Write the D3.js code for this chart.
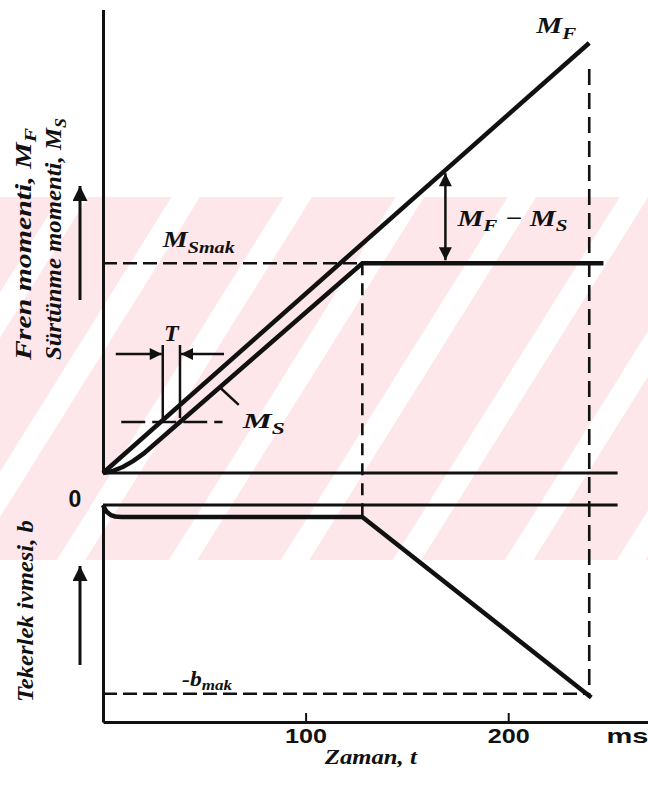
<!DOCTYPE html>
<html>
<head>
<meta charset="utf-8">
<script src="https://cdn.jsdelivr.net/npm/d3@7"></script>
<style>
  html, body { margin: 0; padding: 0; background: #fff; }
  svg { display: block; }
  .lab { font-family: "Liberation Serif", "DejaVu Serif", serif; font-weight: bold; font-style: italic; fill: #111; }
  .num { font-family: "Liberation Sans", Arial, sans-serif; font-weight: bold; fill: #111; }
</style>
</head>
<body>
<svg id="chart" width="648" height="796"></svg>
<script>
// ---- data -------------------------------------------------------------
// time axis, ms
const timeTicks = [100, 200];
const tickLabels = ["100", "200"];
// brake torque M_F: rises linearly until the wheel locks
const brakeTorque = [[0, 0], [240, 205]];
// friction torque M_S: follows M_F with a lag T, then saturates at M_Smak
const frictionTorque = [[0, 0], [5, 1], [10, 3], [15, 5.8], [20, 9.2], [38, 24.3], [128, 100], [247, 100]];
const frictionMax = 100;
// wheel deceleration b
const wheelDecel = [[0, 0], [1, -2.2], [2, -3.8], [4, -5.4], [6, -6.1], [9, -6.4], [128, -6.4], [241, -102]];
const decelMax = -100;
// characteristic instants, ms
const tSat = 128;     // M_S reaches M_Smak
const tLock = 240;    // wheel locks, b reaches -b_mak
const tEnd = 254;     // right end of the reference lines
// lag T drawn at this torque level between these two instants
const lagLevel = 24.3;
const lagTimes = [29.5, 38];
// where the M_F - M_S difference is marked
const diffTime = 169;

// ---- scales -----------------------------------------------------------
const svg = d3.select("#chart");
const x = d3.scaleLinear().domain([0, 269]).range([103, 648]);
const yM = d3.scaleLinear().domain([0, 221]).range([473, 9.4]);
const yB = d3.scaleLinear().domain([0, -115]).range([505, 722]);
const ink = "#111";

// stretch a text element along its run so that it spans `len` pixels
function fit(sel, len) {
  const w = sel.node().getComputedTextLength();
  const base = sel.attr("transform") || "";
  sel.attr("transform", base + ` scale(${len / w},1)`);
  return sel;
}

// ---- background band --------------------------------------------------
const defs = svg.append("defs");
const pat = defs.append("pattern")
  .attr("id", "band").attr("patternUnits", "userSpaceOnUse")
  .attr("width", 95).attr("height", 20)
  .attr("patternTransform", "rotate(32)");
pat.append("rect").attr("width", 95).attr("height", 20).attr("fill", "#fde7eb");
pat.append("rect").attr("x", 60).attr("width", 24).attr("height", 20).attr("fill", "#fff");
svg.append("rect").attr("x", 0).attr("y", 197).attr("width", 648).attr("height", 363)
  .attr("fill", "url(#band)");

// arrowhead marker
function marker(id, len, wid) {
  defs.append("marker")
    .attr("id", id).attr("viewBox", "0 0 10 10")
    .attr("refX", 10).attr("refY", 5)
    .attr("markerUnits", "userSpaceOnUse")
    .attr("markerWidth", len).attr("markerHeight", wid)
    .attr("orient", "auto-start-reverse")
    .append("path").attr("d", "M0,0 L10,5 L0,10 Z").attr("fill", ink);
}
marker("headBig", 20, 15);
marker("headMid", 20, 13);
marker("headT", 20, 12);

// ---- axes -------------------------------------------------------------
function styleAxis(g, w) {
  g.select(".domain").attr("stroke", ink).attr("stroke-width", w);
  g.selectAll(".tick line").attr("stroke", ink).attr("stroke-width", 2);
}
svg.append("g").attr("transform", `translate(${x(0)},0)`)
  .call(d3.axisLeft(yM).tickValues([]).tickSizeOuter(0))
  .call(g => styleAxis(g, 3));
svg.append("g").attr("transform", `translate(${x(0)},0)`)
  .call(d3.axisLeft(yB).tickValues([]).tickSizeOuter(0))
  .call(g => styleAxis(g, 3));
const xAxis = svg.append("g").attr("transform", `translate(0,${yB(-115)})`)
  .call(d3.axisBottom(x).tickValues(timeTicks).tickFormat((d, i) => tickLabels[i])
    .tickSizeInner(-9).tickSizeOuter(0).tickPadding(7))
  .call(g => styleAxis(g, 3));
xAxis.attr("font-family", null);
xAxis.selectAll(".tick text").attr("class", "num").attr("font-size", 20).attr("fill", ink)
  .each(function () { fit(d3.select(this), 42); });

fit(svg.append("text").attr("class", "num").attr("font-size", 20)
  .attr("transform", `translate(${x(248.5)},${yB(-115) + 21})`).text("ms"), 42);
fit(svg.append("text").attr("class", "lab").attr("font-size", 21)
  .attr("transform", `translate(${x(109.5)},${yB(-115) + 42})`).text("Zaman, t"), 92);

// zero reference lines of both panels
svg.append("line").attr("x1", x(0)).attr("x2", x(tEnd)).attr("y1", yM(0)).attr("y2", yM(0))
  .attr("stroke", ink).attr("stroke-width", 3);
svg.append("line").attr("x1", x(0)).attr("x2", x(tEnd)).attr("y1", yB(0)).attr("y2", yB(0))
  .attr("stroke", ink).attr("stroke-width", 3);
svg.append("text").attr("class", "num").attr("font-size", 23)
  .attr("x", x(0) - 28).attr("y", 507).attr("text-anchor", "middle").text("0");

// ---- dashed guides ----------------------------------------------------
function dashed(x1, y1, x2, y2, dash) {
  svg.append("line").attr("x1", x1).attr("y1", y1).attr("x2", x2).attr("y2", y2)
    .attr("stroke", ink).attr("stroke-width", 2.6).attr("stroke-dasharray", dash);
}
dashed(x(0), yM(frictionMax), x(tSat), yM(frictionMax), "14,6");
dashed(x(0), yB(decelMax), x(tLock), yB(decelMax), "14,6");
dashed(x(tSat), yM(frictionMax), x(tSat), yB(wheelDecel[6][1]), "12,8");
dashed(x(tLock), yM(brakeTorque[1][1]) + 26, x(tLock), yB(wheelDecel[7][1]), "16,8");
dashed(x(9), yM(lagLevel), x(59), yM(lagLevel), "24,7");

// ---- curves -----------------------------------------------------------
const lineM = d3.line().x(d => x(d[0])).y(d => yM(d[1]));
const lineB = d3.line().x(d => x(d[0])).y(d => yB(d[1]));
svg.append("path").attr("d", lineM(brakeTorque)).attr("fill", "none")
  .attr("stroke", ink).attr("stroke-width", 4.5);
svg.append("path").attr("d", lineM(frictionTorque)).attr("fill", "none")
  .attr("stroke", ink).attr("stroke-width", 4.5);
svg.append("path").attr("d", lineB(wheelDecel)).attr("fill", "none")
  .attr("stroke", ink).attr("stroke-width", 4.5);

// ---- lag T marker -----------------------------------------------------
const lagTop = yM(lagLevel) - 77;
lagTimes.forEach(t => {
  svg.append("line").attr("x1", x(t)).attr("x2", x(t)).attr("y1", lagTop).attr("y2", yM(lagLevel) - 4)
    .attr("stroke", ink).attr("stroke-width", 2.5);
});
const lagArrowY = lagTop + 9;
svg.append("line").attr("x1", x(lagTimes[0]) - 47).attr("x2", x(lagTimes[0]) - 1)
  .attr("y1", lagArrowY).attr("y2", lagArrowY)
  .attr("stroke", ink).attr("stroke-width", 2.5).attr("marker-end", "url(#headT)");
svg.append("line").attr("x1", x(lagTimes[1]) + 44).attr("x2", x(lagTimes[1]) + 1)
  .attr("y1", lagArrowY).attr("y2", lagArrowY)
  .attr("stroke", ink).attr("stroke-width", 2.5).attr("marker-end", "url(#headT)");
svg.append("text").attr("class", "lab").attr("font-size", 24)
  .attr("x", (x(lagTimes[0]) + x(lagTimes[1])) / 2).attr("y", lagTop - 4)
  .attr("text-anchor", "middle").text("T");

// ---- M_F - M_S difference arrow ---------------------------------------
const mfAt = brakeTorque[1][1] / brakeTorque[1][0] * diffTime;
svg.append("line").attr("x1", x(diffTime)).attr("x2", x(diffTime))
  .attr("y1", yM(mfAt) + 3).attr("y2", yM(frictionMax) - 3)
  .attr("stroke", ink).attr("stroke-width", 2.5)
  .attr("marker-start", "url(#headMid)").attr("marker-end", "url(#headMid)");

// ---- labels with subscripts -------------------------------------------
function subText(px, py, parts, size, len) {
  const t = svg.append("text").attr("class", "lab").attr("font-size", size)
    .attr("transform", `translate(${px},${py})`);
  parts.forEach(p => {
    const s = t.append("tspan").text(p.text);
    if (p.sub) s.attr("font-size", size * 0.72).attr("dy", p.dy);
    else if (p.dy) s.attr("dy", p.dy);
  });
  return fit(t, len);
}
// M_F at the top of the brake torque line
subText(x(tLock) - 53, yM(brakeTorque[1][1]) - 10,
  [{ text: "M" }, { text: "F", sub: true, dy: 6 }], 23, 40);
// M_F - M_S
subText(x(diffTime) + 12, yM(frictionMax) - 37,
  [{ text: "M" }, { text: "F", sub: true, dy: 5 }, { text: " − M", dy: -5 }, { text: "S", sub: true, dy: 5 }], 23, 110);
// M_Smak
subText(x(29.5), yM(frictionMax) - 16,
  [{ text: "M" }, { text: "Smak", sub: true, dy: 6 }], 23, 72);
// M_S pointer and label
svg.append("line").attr("x1", x(58)).attr("y1", yM(40.5)).attr("x2", x(67)).attr("y2", yM(32.5))
  .attr("stroke", ink).attr("stroke-width", 2.5);
subText(x(69), yM(21.5),
  [{ text: "M" }, { text: "S", sub: true, dy: 6 }], 22, 42);
// -b_mak
subText(x(39), yB(decelMax) - 8,
  [{ text: "-b" }, { text: "mak", sub: true, dy: 4 }], 21, 50);

// ---- vertical axis titles ---------------------------------------------
function vTitle(px, py, parts, size, len) {
  const t = svg.append("text").attr("class", "lab").attr("font-size", size)
    .attr("transform", `translate(${px},${py}) rotate(-90)`);
  parts.forEach(p => {
    const s = t.append("tspan").text(p.text);
    if (p.sub) s.attr("font-size", size * 0.72).attr("dy", p.dy);
  });
  return fit(t, len);
}
vTitle(31, 360, [{ text: "Fren momenti, M" }, { text: "F", sub: true, dy: 5 }], 23, 232);
vTitle(61, 360, [{ text: "Sürtünme momenti, M" }, { text: "S", sub: true, dy: 5 }], 23, 242);
vTitle(33, 702, [{ text: "Tekerlek ivmesi, b" }], 23, 182);

// up arrows beside the titles
svg.append("line").attr("x1", 80).attr("x2", 80).attr("y1", 300).attr("y2", 186)
  .attr("stroke", ink).attr("stroke-width", 3).attr("marker-end", "url(#headBig)");
svg.append("line").attr("x1", 80).attr("x2", 80).attr("y1", 665).attr("y2", 566)
  .attr("stroke", ink).attr("stroke-width", 3).attr("marker-end", "url(#headBig)");
</script>
</body>
</html>
